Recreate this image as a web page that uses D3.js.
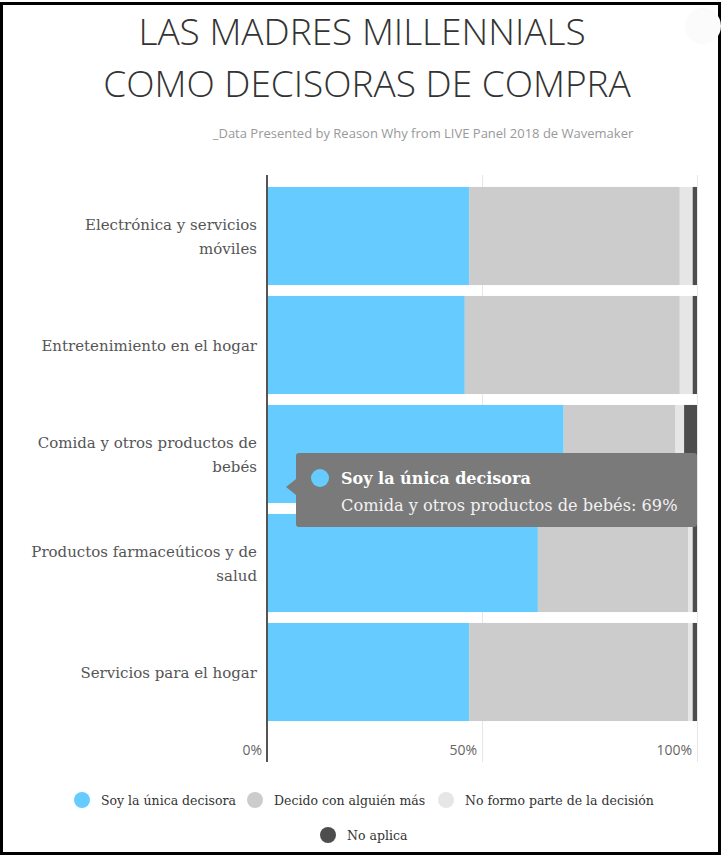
<!DOCTYPE html>
<html>
<head>
<meta charset="utf-8">
<script src="https://cdn.jsdelivr.net/npm/d3@7"></script>
<style>
  body { margin: 0; background: #fff; }
  svg { display: block; }
</style>
</head>
<body>
<div id="chart"></div>
<script>
// data
var categories = [
  ["Electrónica y servicios", "móviles"],
  ["Entretenimiento en el hogar"],
  ["Comida y otros productos de", "bebés"],
  ["Productos farmaceúticos y de", "salud"],
  ["Servicios para el hogar"]
];
var seriesNames = ["Soy la única decisora", "Decido con alguién más", "No formo parte de la decisión", "No aplica"];
var seriesColors = ["#66ccff", "#cccccc", "#e6e6e6", "#4d4d4d"];
var unica = [47, 46, 69, 63, 47];
var conAlguien = [49, 50, 26, 35, 51];
var noParte = [3, 3, 2, 1, 1];
var noAplica = [1, 1, 3, 1, 1];
var xTicks = [0, 50, 100];

var W = 722, H = 855;
var svg = d3.select("#chart").append("svg")
    .attr("width", W)
    .attr("height", H);

// outer frame
svg.append("rect")
    .attr("x", 1.5).attr("y", 3.5)
    .attr("width", W - 4).attr("height", H - 5)
    .attr("fill", "#fff")
    .attr("stroke", "#000")
    .attr("stroke-width", 3);

// faint export button top right
svg.append("circle")
    .attr("cx", 703).attr("cy", 26).attr("r", 18)
    .attr("fill", "#fbfbfb");

// title
var title = svg.append("text")
    .attr("text-anchor", "middle")
    .attr("font-family", "Open Sans")
    .attr("font-weight", 300)
    .attr("font-size", 37)
    .attr("fill", "#333");
title.append("tspan").attr("x", 362).attr("y", 45).text("LAS MADRES MILLENNIALS");
title.append("tspan").attr("x", 367).attr("y", 97).text("COMO DECISORAS DE COMPRA");

svg.append("text")
    .attr("x", 423).attr("y", 138)
    .attr("text-anchor", "middle")
    .attr("font-family", "Open Sans")
    .attr("font-size", 13)
    .attr("fill", "#999")
    .text("_Data Presented by Reason Why from LIVE Panel 2018 de Wavemaker");

// scales
var x = d3.scaleLinear().domain([0, 100]).range([267, 697]);
var y = d3.scaleBand()
    .domain(d3.range(categories.length))
    .range([181.5, 726.5])
    .paddingInner(0.1)
    .paddingOuter(0.05);

// gridlines
svg.selectAll(".grid")
    .data(xTicks.slice(1))
    .enter().append("line")
    .attr("x1", function(d) { return x(d) + 0.5; })
    .attr("x2", function(d) { return x(d) + 0.5; })
    .attr("y1", 175).attr("y2", 762)
    .attr("stroke", "#e6e6e6")
    .attr("stroke-width", 1);

// stacked bars
var table = categories.map(function(c, i) {
  return { i: i, s0: unica[i], s1: conAlguien[i], s2: noParte[i], s3: noAplica[i] };
});
var stack = d3.stack().keys(["s0", "s1", "s2", "s3"])(table);

svg.selectAll(".layer")
    .data(stack)
    .enter().append("g")
    .attr("fill", function(d, k) { return seriesColors[k]; })
    .selectAll("rect")
    .data(function(d) { return d; })
    .enter().append("rect")
    .attr("x", function(d) { return x(d[0]); })
    .attr("y", function(d) { return y(d.data.i); })
    .attr("width", function(d) { return x(d[1]) - x(d[0]); })
    .attr("height", y.bandwidth());

// y axis line
svg.append("line")
    .attr("x1", 267).attr("x2", 267)
    .attr("y1", 175).attr("y2", 762)
    .attr("stroke", "#555")
    .attr("stroke-width", 2);

// x tick labels
svg.selectAll(".xlab")
    .data(xTicks)
    .enter().append("text")
    .attr("x", function(d) { return x(d) - 5; })
    .attr("y", 755)
    .attr("text-anchor", "end")
    .attr("font-family", "Open Sans")
    .attr("font-size", 14)
    .attr("fill", "#666")
    .text(function(d) { return d + "%"; });

// category labels
var lab = svg.selectAll(".ylab")
    .data(categories)
    .enter().append("text")
    .attr("text-anchor", "end")
    .attr("font-family", "DejaVu Serif")
    .attr("font-size", 15)
    .attr("fill", "#555");
lab.each(function(lines, i) {
  var cy = y(i) + y.bandwidth() / 2;
  var t = d3.select(this);
  lines.forEach(function(l, j) {
    t.append("tspan")
      .attr("x", 257)
      .attr("y", cy + 6 + (j - (lines.length - 1) / 2) * 24)
      .text(l);
  });
});

// legend
var legendPos = [[82, 800], [255, 800], [446, 800], [328, 835]];
var leg = svg.selectAll(".leg")
    .data(seriesNames)
    .enter().append("g")
    .attr("transform", function(d, k) { return "translate(" + legendPos[k][0] + "," + legendPos[k][1] + ")"; });
leg.append("circle")
    .attr("r", 8)
    .attr("fill", function(d, k) { return seriesColors[k]; });
leg.append("text")
    .attr("x", 19).attr("y", 5)
    .attr("font-family", "DejaVu Serif")
    .attr("font-size", 12.5)
    .attr("fill", "#333")
    .text(function(d) { return d; });

// tooltip on "Comida y otros productos de bebés"
var ti = 2;
var tip = svg.append("g").attr("transform", "translate(296,453)");
tip.append("path")
    .attr("d", "M3,0 H398 Q401,0 401,3 V71 Q401,74 398,74 H3 Q0,74 0,71 V42 L-10,34 L0,26 V3 Q0,0 3,0 Z")
    .attr("fill", "#7a7a7a");
tip.append("circle")
    .attr("cx", 24).attr("cy", 25).attr("r", 9)
    .attr("fill", seriesColors[0]);
tip.append("text")
    .attr("x", 45).attr("y", 31)
    .attr("font-family", "DejaVu Serif")
    .attr("font-weight", "bold")
    .attr("font-size", 16)
    .attr("fill", "#fff")
    .text(seriesNames[0]);
tip.append("text")
    .attr("x", 45).attr("y", 58)
    .attr("font-family", "DejaVu Serif")
    .attr("font-size", 16.2)
    .attr("fill", "#f2f2f2")
    .text(categories[ti].join(" ") + ": " + unica[ti] + "%");
</script>
</body>
</html>
